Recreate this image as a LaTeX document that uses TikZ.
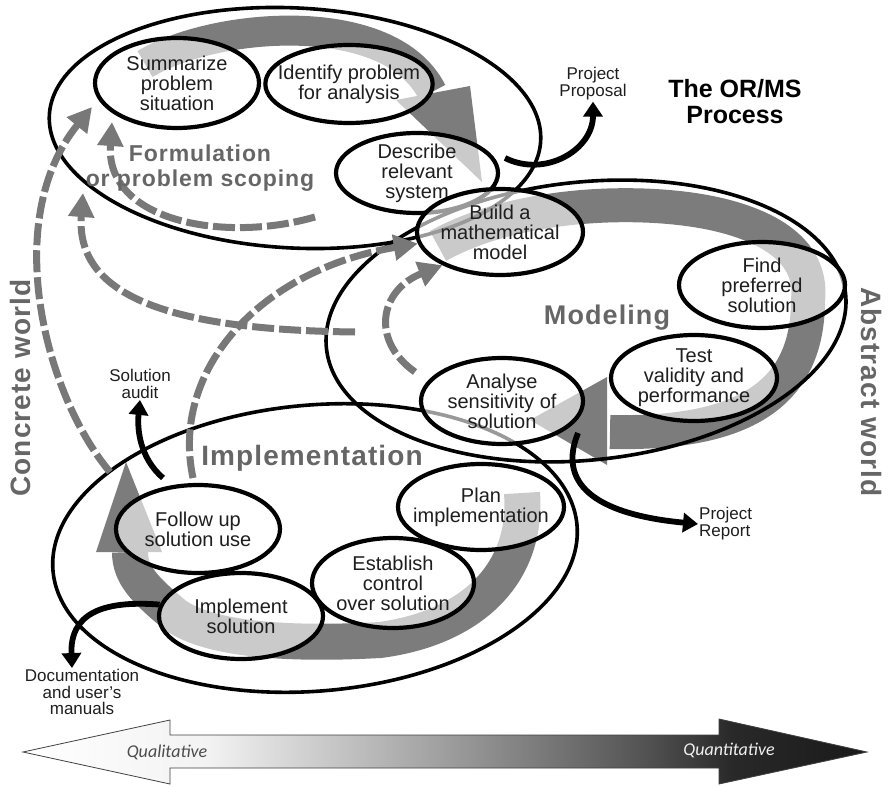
\documentclass[tikz,border=0pt]{standalone}
\usepackage{fontspec}
\setmainfont{Liberation Sans}
\newfontfamily\stagelabelfont[LetterSpace=4]{Liberation Sans}
\newfontfamily\axislabelfont{Carlito}
\usetikzlibrary{shapes.geometric,arrows.meta}

\definecolor{bandgray}{HTML}{7C7C7C}
\definecolor{dashgray}{HTML}{787878}
\definecolor{labelgray}{HTML}{666666}
\definecolor{ink}{HTML}{1E1E1E}

% the path's bounding box spans 25bp..75bp of the shading
\pgfdeclarehorizontalshading{qualquant}{100bp}{color(0bp)=(white); color(25bp)=(white); color(36bp)=(black!5); color(50bp)=(black!38); color(62bp)=(black!68); color(67bp)=(black!84); color(75bp)=(black!90); color(100bp)=(black!90)}

\pgfdeclarelayer{bandlayer}
\pgfdeclarelayer{looplayer}
\pgfdeclarelayer{dashlayer}
\pgfsetlayers{bandlayer,looplayer,dashlayer,main}

\begin{document}
\begin{tikzpicture}[x=1pt,y=-1pt,
  stage/.style={ellipse, draw=black, line width=4.2pt, fill=white, fill opacity=0.6,
    text opacity=1, text=ink, inner sep=-12pt, align=center,
    font=\fontsize{20}{20}\selectfont},
  phaseloop/.style={draw=black, line width=3.6pt},
  band/.style={draw=bandgray, line width=#1},
  bandhead/.style={fill=bandgray},
  feedback/.style={draw=dashgray, line width=7pt, dash pattern=on 22pt off 5pt,
    -{Triangle[length=24pt,width=25pt]}},
  outflow/.style={draw=black, line width=5.8pt, -{Triangle[length=15pt,width=19pt]}},
  phaselabel/.style={text=labelgray, align=center, inner sep=0pt},
  note/.style={text=ink, font=\fontsize{17}{17}\selectfont, align=center, inner sep=1pt},
]
\useasboundingbox (0,0) rectangle (890,786);

% ---------- process steps ----------
\node[stage, minimum width=164pt, minimum height=90pt] (summarize) at (177,83) {Summarize\\problem\\situation};
\node[stage, minimum width=162pt, minimum height=78pt] (identify) at (349,84) {Identify problem\\for analysis};
\node[stage, minimum width=162pt, minimum height=80pt] (describe) at (417,173) {Describe\\relevant\\system};
\node[stage, minimum width=166pt, minimum height=86pt] (build) at (500,232) {Build a\\mathematical\\model};
\node[stage, minimum width=166pt, minimum height=86pt] (findpref) at (762,285) {Find\\preferred\\solution};
\node[stage, minimum width=166pt, minimum height=86pt] (test) at (694,378) {Test\\validity and\\performance};
\node[stage, minimum width=162pt, minimum height=86pt] (analyse) at (502,401) {Analyse\\sensitivity of\\solution};
\node[stage, minimum width=164pt, minimum height=88pt] (followup) at (198,529) {Follow up\\solution use};
\node[stage, minimum width=164pt, minimum height=86pt] (implement) at (241,616) {Implement\\solution};
\node[stage, minimum width=162pt, minimum height=90pt] (establish) at (393,583) {Establish\\control\\over solution};
\node[stage, minimum width=166pt, minimum height=86pt] (plan) at (481,507) {Plan\\implementation};

% ---------- phase names and titles ----------
\node[phaselabel, font=\stagelabelfont\bfseries\fontsize{23}{25}\selectfont] (formlabel) at (200,168) {Formulation\\or problem scoping};
\node[phaselabel, font=\stagelabelfont\bfseries\fontsize{27}{28}\selectfont] (modlabel) at (607,318) {Modeling};
\node[phaselabel, font=\stagelabelfont\bfseries\fontsize{28}{30}\selectfont] (implabel) at (312,458) {Implementation};
\node[phaselabel, rotate=90, font=\stagelabelfont\bfseries\fontsize{28}{30}\selectfont] (concrete) at (20,388) {Concrete world};
\node[phaselabel, rotate=-90, font=\stagelabelfont\bfseries\fontsize{28}{30}\selectfont] (abstract) at (871,392) {Abstract world};
\node[text=black, align=center, font=\bfseries\fontsize{25}{26}\selectfont] (title) at (735,102) {The OR/MS\\Process};

% ---------- deliverables ----------
\node[note] (proposal) at (593,84) {Project\\Proposal};
\node[note, align=left, anchor=west] (report) at (698,524) {Project\\Report};
\node[note] (audit) at (140,384) {Solution\\audit};
\node[note, font=\fontsize{17}{16.5}\selectfont] (docs) at (82,692) {Documentation\\and user's\\manuals};

\coordinate (propstart) at (505,158);
\coordinate (repstart) at (578,433);
\coordinate (auditstart) at (163,478);

\draw[outflow] (propstart) .. controls (545,178) and (593,150) .. (proposal.south);
\draw[outflow] (repstart) .. controls (558,482) and (592,514) .. (report.west);
\draw[outflow] (auditstart) .. controls (140,458) and (137,430) .. (audit.south);
\draw[outflow] (implement.172) .. controls (100,600) and (70,615) .. ([xshift=-10pt]docs.north);

% ---------- qualitative / quantitative scale ----------
\path[shading=qualquant, draw=black!75, line width=0.8pt]
  (23,752) -- (170,720) -- (170,735) -- (719,735) -- (719,719) -- (867,752)
  -- (719,784) -- (719,768) -- (170,768) -- (170,784) -- cycle;
\node[text=black!70, font=\axislabelfont\itshape\fontsize{18}{18}\selectfont] (qual) at (167,752) {Qualitative};
\node[text=black!6, font=\axislabelfont\itshape\fontsize{18}{18}\selectfont] (quant) at (729,750) {Quantitative};

% ---------- broad cycle arrows ----------
\begin{pgfonlayer}{bandlayer}
  % formulation cycle
  \draw[band=30pt] (145,64) .. controls (215,22) and (390,8) .. (432,92);
  \fill[bandhead] (396,100) -- (470,86) -- (482,182) -- cycle;
  % modeling cycle
  \draw[band=34pt] (438,246) .. controls (520,200) and (650,198) .. (720,215)
    .. controls (790,232) and (812,265) .. (808,300)
    .. controls (808,390) and (750,435) .. (610,432);
  \fill[bandhead] (607,377) -- (607,465) -- (530,420) -- cycle;
  % implementation cycle
  \draw[band=36pt] (522,493) .. controls (528,575) and (470,628) .. (380,640)
    .. controls (290,645) and (210,640) .. (175,615)
    .. controls (145,590) and (130,575) .. (130,552);
  \fill[bandhead] (96,552) -- (162,552) -- (126,462) -- cycle;
\end{pgfonlayer}

% ---------- phase boundaries ----------
\begin{pgfonlayer}{looplayer}
  \draw[phaseloop, rotate around={-3:(295,128)}] (295,128) ellipse [x radius=246pt, y radius=120pt];
  \draw[phaseloop, rotate around={6:(586,321)}] (586,321) ellipse [x radius=261pt, y radius=139pt];
  \draw[phaseloop, rotate around={5:(315,548)}] (315,548) ellipse [x radius=263pt, y radius=143pt];
\end{pgfonlayer}

% ---------- feedback loops ----------
\coordinate (fb1s) at (110,472);
\coordinate (fb1e) at (92,107);
\coordinate (fb2s) at (315,217);
\coordinate (fb2e) at (112,122);
\coordinate (fb3s) at (355,332);
\coordinate (fb3e) at (83,193);
\coordinate (fb4s) at (193,478);
\coordinate (fb5s) at (415,372);
\begin{pgfonlayer}{dashlayer}
  \draw[feedback] (fb1s) .. controls (45,395) and (0,220) .. (fb1e);
  \draw[feedback] (fb2s) .. controls (225,243) and (105,222) .. (fb2e);
  \draw[feedback] (fb3s) .. controls (180,330) and (75,300) .. (fb3e);
  \draw[feedback] (fb4s) .. controls (170,370) and (260,270) .. (build.188);
  \draw[feedback] (fb5s) .. controls (370,340) and (380,290) .. (build.210);
\end{pgfonlayer}
\end{tikzpicture}
\end{document}
